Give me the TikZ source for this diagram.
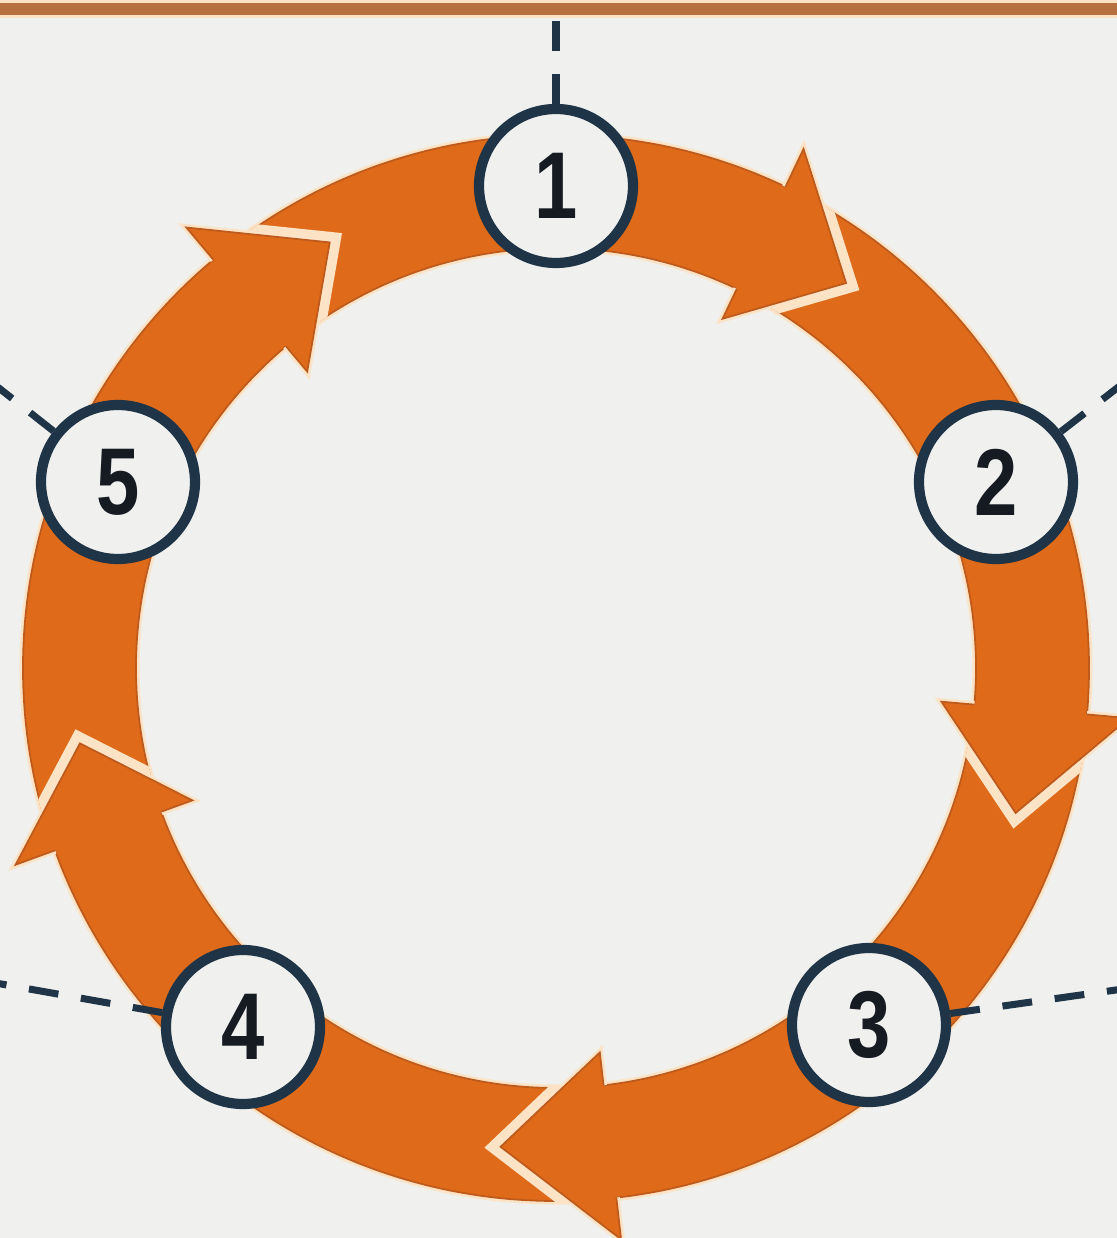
\documentclass[tikz,border=0pt]{standalone}
\usepackage{fontspec}
\newfontfamily\stepfont[FakeStretch=0.82]{Liberation Sans}
\usetikzlibrary{positioning}
\definecolor{ringorange}{HTML}{DF6B1A}
\definecolor{ringdark}{HTML}{BE5A1C}
\definecolor{ringedge}{HTML}{FCE3C6}
\definecolor{paper}{HTML}{F0F0EE}
\definecolor{navy}{HTML}{1F3447}
\definecolor{barbrown}{HTML}{B7703F}
\definecolor{digit}{HTML}{161B22}
% head of one ring arrow: base angle, tip angle
\newcommand{\ringhead}[2]{%
  \begin{scope}[even odd rule]
    \clip (0,0) circle (5.34) (0,0) circle (4.19);
    \draw[headgap] (#1:5.75) -- (#2:4.82) -- (#1:3.87);
  \end{scope}
  \draw[headglow] (#1:5.33) -- (#1:5.75) -- (#2:4.82) -- (#1:3.87) -- (#1:4.20);
  \filldraw[headfill] (#1:5.33) -- (#1:5.75) -- (#2:4.82) -- (#1:3.87) -- (#1:4.20);}

\begin{document}
\begin{tikzpicture}[
    stepnode/.style={circle, draw=navy, line width=2.9pt, fill=paper, minimum size=1.54cm, inner sep=0pt,
      font=\stepfont\bfseries\fontsize{27}{27}\selectfont, text=digit},
    leader/.style={draw=navy, line width=2pt, dash pattern=on 8.5pt off 6.5pt},
    headgap/.style={draw=ringedge, line width=6pt, line join=miter},
    headglow/.style={draw=ringedge, line width=2pt, line join=miter},
    headfill/.style={fill=ringorange, draw=ringdark, line width=0.5pt, line join=miter}]
    \clip (-5.56,-5.70) rectangle (5.61,6.68);
    \fill[paper] (-5.56,-5.70) rectangle (5.61,6.68);
    \fill[ringedge] (-5.56,6.50) rectangle (5.61,6.68);
    \fill[barbrown] (-5.56,6.53) rectangle (5.61,6.65);
    % ring and heads
    \draw[ringedge, line width=2pt] (0,0) circle (5.33) (0,0) circle (4.20);
    \filldraw[fill=ringorange, draw=ringdark, line width=0.5pt, even odd rule] (0,0) circle (5.33) (0,0) circle (4.20);
    \ringhead{64.5}{53}
    \ringhead{-5}{-17.5}
    \ringhead{-83.5}{-96.6}
    \ringhead{-160}{-171}
    \ringhead{130}{118}
    % steps
    \node[stepnode] (n1) at (0,4.82) {1};
    \node[stepnode] (n2) at (4.40,1.86) {2};
    \node[stepnode] (n3) at (3.13,-3.57) {3};
    \node[stepnode] (n4) at (-3.13,-3.59) {4};
    \node[stepnode] (n5) at (-4.38,1.86) {5};
    \coordinate (c1) at (0,6.53);
    \coordinate (c2) at (5.74,2.90);
    \coordinate (c3) at (5.74,-3.20);
    \coordinate (c4) at (-5.66,-3.14);
    \coordinate (c5) at (-5.66,2.87);
    \foreach \i in {1,2,...,5}{\draw[leader] (n\i) -- (c\i);}
\end{tikzpicture}
\end{document}
